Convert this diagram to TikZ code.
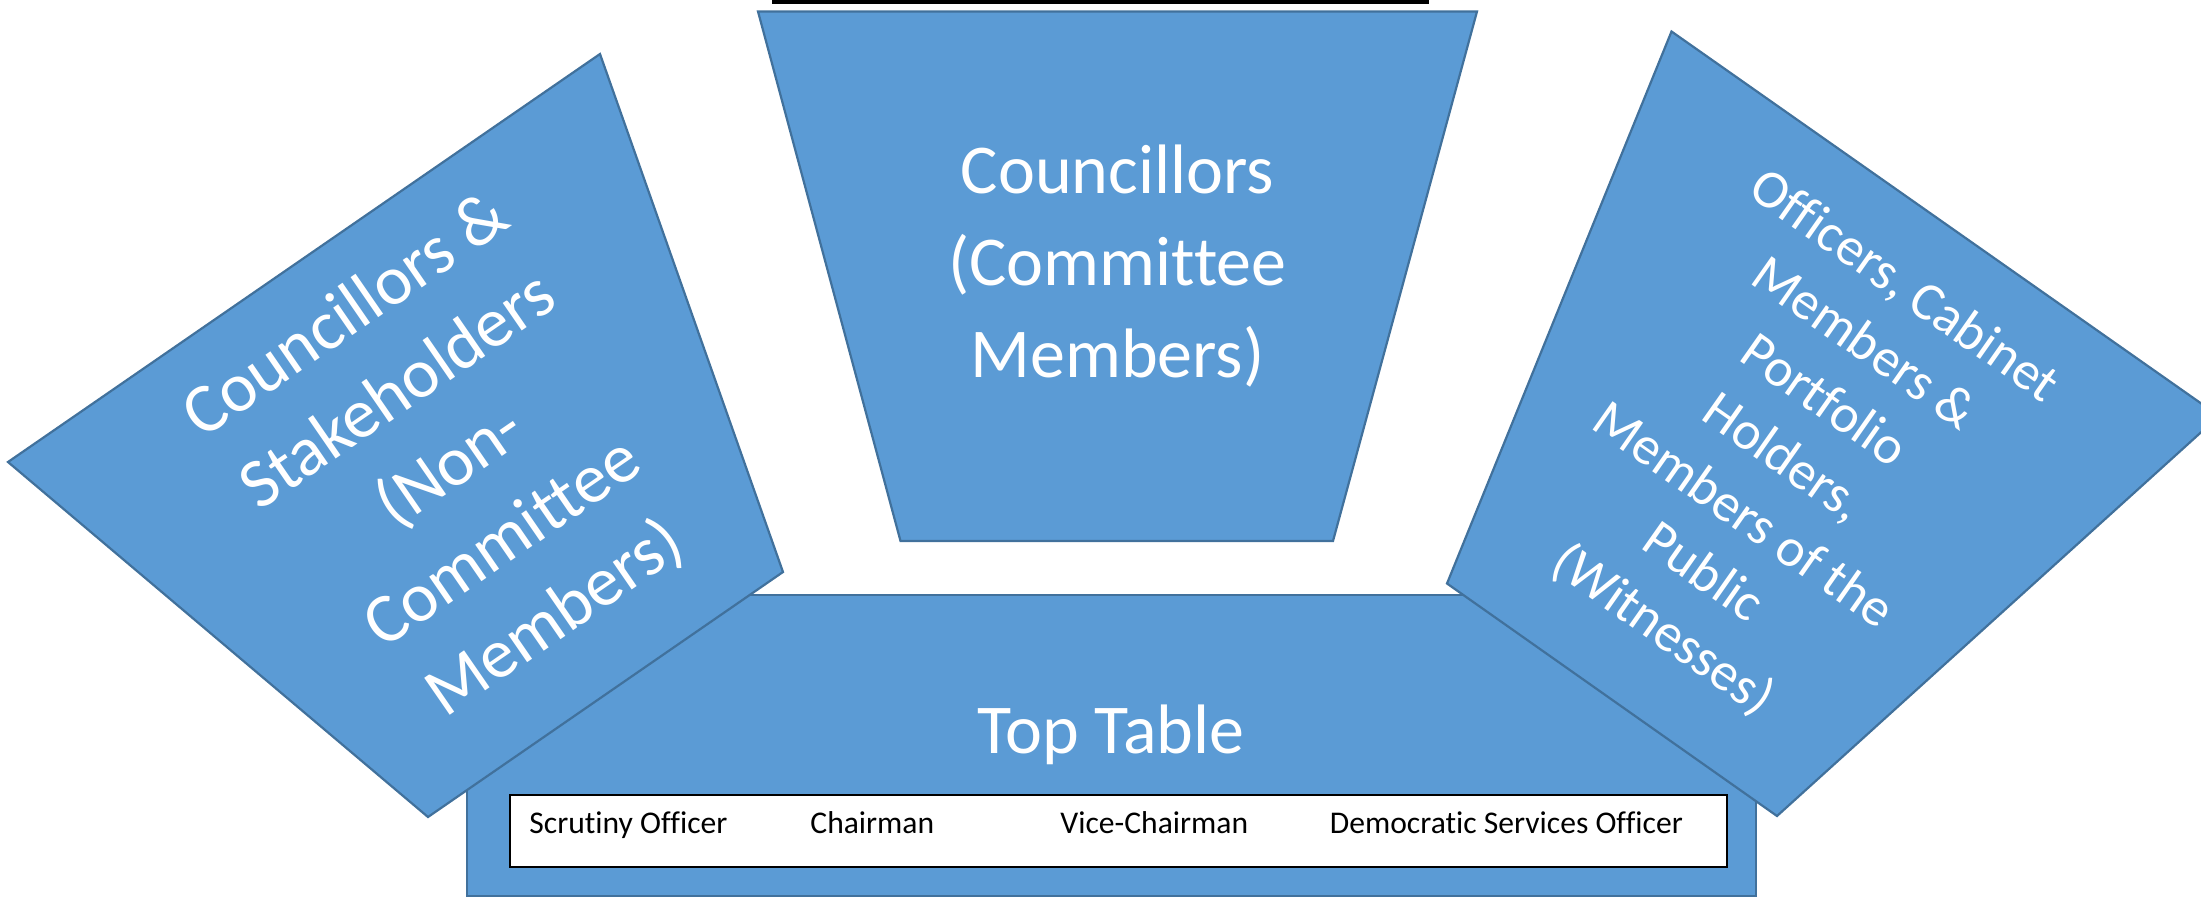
\documentclass[tikz,border=0pt]{standalone}
\usepackage{fontspec}
\setmainfont{Carlito}[Ligatures={NoCommon,NoRequired,NoContextual},RawFeature={-liga;-clig;-dlig}]
\definecolor{boxblue}{HTML}{5B9BD5}
\definecolor{edgeblue}{HTML}{41719C}
\begin{document}
\begin{tikzpicture}[x=0.5pt,y=-0.5pt,
  panel/.style={fill=boxblue,draw=edgeblue,line width=1.1pt,line join=miter},
  bigtext/.style={text=white,font=\fontsize{35}{46}\selectfont,align=center,inner sep=0pt},
  smalltext/.style={text=white,font=\fontsize{27}{35}\selectfont,align=center,inner sep=0pt},
  seat/.style={text=black,font=\fontsize{15.8}{19}\selectfont,anchor=base west,inner sep=0pt}]
\useasboundingbox (0,0) rectangle (2201,899);
\clip (0,0) rectangle (2201,899);
% title bar remnant at the top
\fill[black] (772,-5) rectangle (1429,4.5);
% top table
\path[panel] (467,595) rectangle (1756,896);
\node (tt) at (1111,735) [bigtext] {Top Table};
\path[fill=white,draw=black,line width=0.8pt] (510,795) rectangle (1727,867);
\node (s1) at (529,833) [seat] {Scrutiny Officer};
\node (s2) at (810,833) [seat] {Chairman};
\node (s3) at (1060,833) [seat] {Vice-Chairman};
\node (s4) at (1329.5,833) [seat] {Democratic Services Officer};
% left group
\coordinate (L1) at (600,54);
\coordinate (L2) at (8,462);
\coordinate (L3) at (428,817);
\coordinate (L4) at (783,572);
\path[panel] (L1) -- (L2) -- (L3) -- (L4) -- cycle;
\node (lt) at (451,468) [bigtext,rotate=34.6] {Councillors \&\\Stakeholders\\(Non-\\Committee\\Members)};
% right group
\coordinate (R1) at (1671.5,31.5);
\coordinate (R2) at (2219,416);
\coordinate (R3) at (1777,816);
\coordinate (R4) at (1447,583.5);
\path[panel] (R1) -- (R2) -- (R3) -- (R4) -- cycle;
\node (rt) at (1783,459) [smalltext,rotate=-35.1] {Officers, Cabinet\\Members \&\\Portfolio\\Holders,\\Members of the\\Public\\(Witnesses)};
% centre group
\coordinate (C1) at (758,11.5);
\coordinate (C2) at (1477,11.5);
\coordinate (C3) at (1333,541);
\coordinate (C4) at (900.5,541);
\path[panel] (C1) -- (C2) -- (C3) -- (C4) -- cycle;
\node (ct) at (1117.5,266.5) [bigtext] {Councillors\\(Committee\\Members)};
\end{tikzpicture}
\end{document}
